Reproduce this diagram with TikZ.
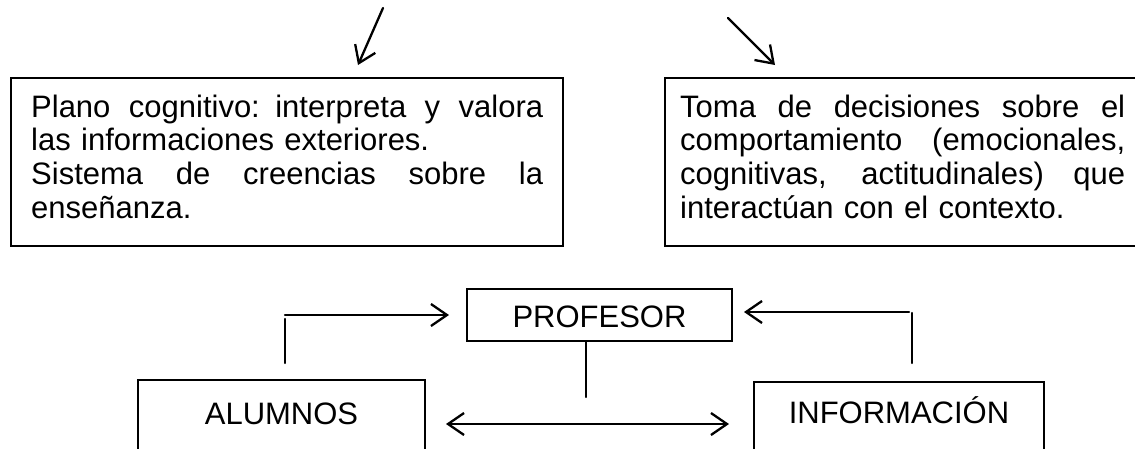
\documentclass[tikz,border=0pt]{standalone}
\usepackage{fontspec}
\setmainfont{Liberation Sans}
\usetikzlibrary{arrows.meta,calc}
\newcommand\justline[2]{\leavevmode\hbox to #1{\spaceskip=0.278em plus 1fil\relax #2}}
\begin{document}
\begin{tikzpicture}[x=1pt,y=-1pt,
  ln/.style={line width=2.3pt, line cap=round},
  arr/.style={ln, -{Straight Barb[length=16pt,width=22pt]}},
  dbl/.style={ln, {Straight Barb[length=16pt,width=22pt]}-{Straight Barb[length=16pt,width=22pt]}},
  frame/.style={draw, line width=2pt, anchor=north west, inner sep=0pt},
  para/.style={anchor=base west, inner sep=0pt, font={\fontsize{31}{33.7}\selectfont}},
  lab/.style={draw, line width=2pt, anchor=north west, inner sep=0pt, font={\fontsize{31}{36}\selectfont}}
]
\useasboundingbox (0,0) rectangle (1135,448);
\fill[white] (0,0) rectangle (1135,448);
\clip (0,0) rectangle (1135,448);

% top free arrows
\coordinate (la1) at (383,8);
\coordinate (la2) at (358,65);
\coordinate (ra1) at (728,18);
\coordinate (ra2) at (775,65);
\draw[arr] (la1) -- (la2);
\draw[arr] (ra1) -- (ra2);

% top boxes
\node[frame, minimum width=552, minimum height=168] (lbox) at (10,77) {};
\node[para, text width=512] (ltxt) at (31,117) {%
\justline{512pt}{Plano cognitivo: interpreta y valora}\\
las informaciones exteriores.\\
\justline{512pt}{Sistema de creencias sobre la}\\
enseñanza.};

\node[frame, minimum width=500, minimum height=168] (rbox) at (664,77) {};
\node[para, text width=445] (rtxt) at (680,117) {%
\justline{445pt}{Toma de decisiones sobre el}\\
\justline{445pt}{comportamiento (emocionales,}\\
\justline{445pt}{cognitivas, actitudinales) que}\\
interactúan con el contexto.};

% bottom boxes
\node[lab, minimum width=265, text height=38pt, text depth=14pt] (prof) at (466,288) {PROFESOR};
\node[lab, minimum width=287, text height=44pt, text depth=56pt] (alu) at (137,379) {ALUMNOS};
\node[lab, minimum width=290, text height=41pt, text depth=59pt] (inf) at (753,381) {INFORMACIÓN};

% connectors
\coordinate (lv1) at ($(alu.north west)+(148,-16)$);
\coordinate (lv2) at ($(alu.north west)+(148,-60)$);
\coordinate (lh1) at ($(alu.north west)+(148,-64)$);
\coordinate (lh2) at ($(prof.west)+(-17,1)$);
\draw[ln] (lv1) -- (lv2);
\draw[arr] (lh1) -- (lh2 |- lh1);

\coordinate (rv1) at ($(inf.north west)+(159,-18)$);
\coordinate (rv2) at ($(inf.north west)+(159,-68)$);
\coordinate (rh1) at ($(inf.north west)+(156,-69)$);
\coordinate (rh2) at ($(prof.east)+(11,0)$);
\draw[ln] (rv1) -- (rv2);
\draw[arr] (rh1) -- (rh2 |- rh1);

\coordinate (mv) at ($(prof.south west)+(120,55)$);
\draw[ln] (prof.south -| mv) -- (mv);

\coordinate (d1) at ($(alu.north east)+(20,45)$);
\coordinate (d2) at ($(inf.north west)+(-24,43)$);
\draw[dbl] (d1) -- (d2);
\end{tikzpicture}
\end{document}
